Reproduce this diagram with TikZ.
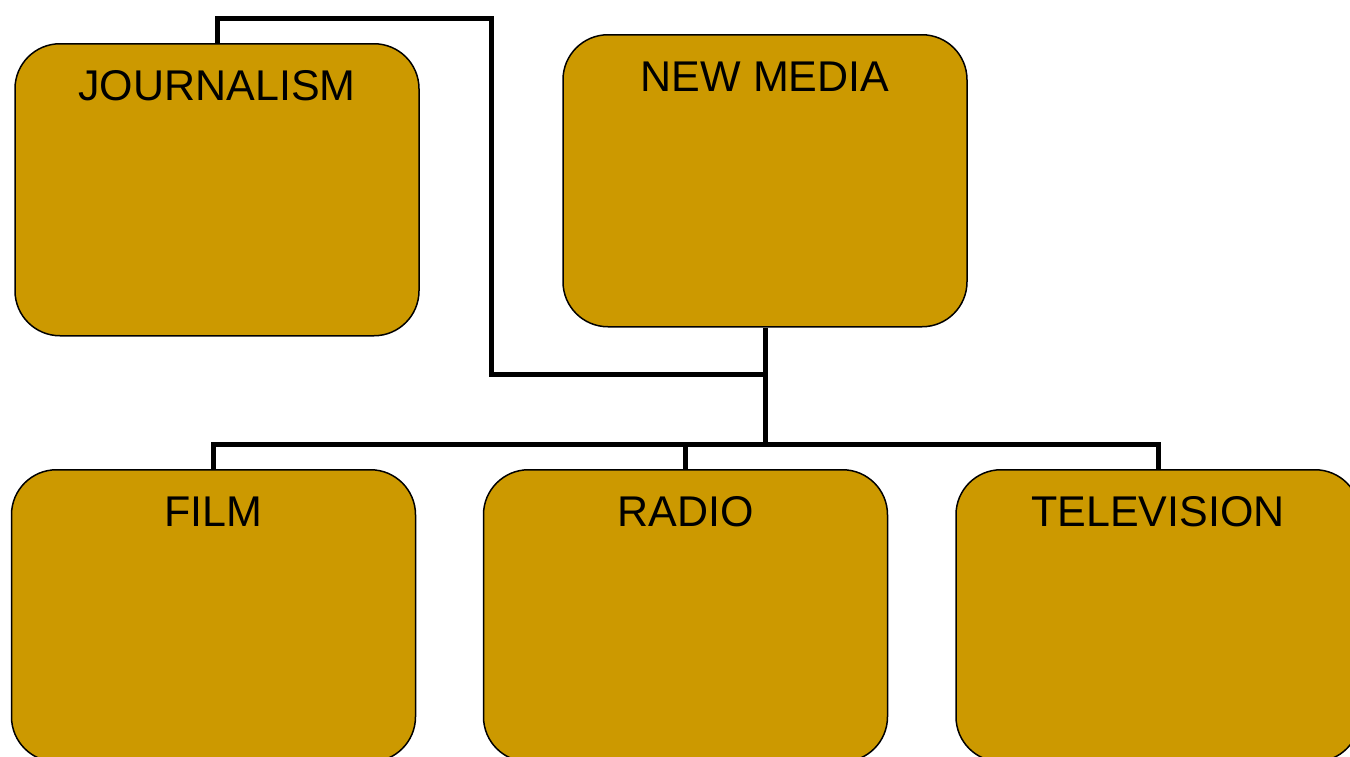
\documentclass[tikz,border=0pt]{standalone}
\usepackage{fontspec}
\setmainfont{Liberation Sans}
\definecolor{boxfill}{HTML}{CC9900}
\begin{document}
\begin{tikzpicture}[x=1pt,y=-1pt,
  mbox/.style={draw=black, line width=1.5pt, fill=boxfill, rounded corners=45pt,
    minimum width=404pt, inner xsep=0pt, inner ysep=0pt,
    text height=57pt, text depth=235pt,
    font=\fontsize{43}{50}\selectfont, anchor=north},
  conn/.style={draw=black, line width=5pt, line join=miter}]
\useasboundingbox (0,0) rectangle (1350,756);
\node[mbox] (j) at (217,43) {JOURNALISM};
\node[mbox] (nm) at (765,34) {NEW MEDIA};
\node[mbox] (film) at (213.5,469) {FILM};
\node[mbox] (radio) at (685.5,469) {RADIO};
\node[mbox] (tv) at (1158,469) {TELEVISION};
\coordinate (top) at (491.5,18.5);
\coordinate (mid) at (765,374);
\coordinate (hub) at (765,444.5);
\draw[conn] (j.north) |- (top) |- (mid);
\draw[conn] (nm.south) -- (hub);
\draw[conn] (film.north) |- (hub) -| (tv.north);
\draw[conn] (radio.north) -- (radio.north |- hub);
\end{tikzpicture}
\end{document}
